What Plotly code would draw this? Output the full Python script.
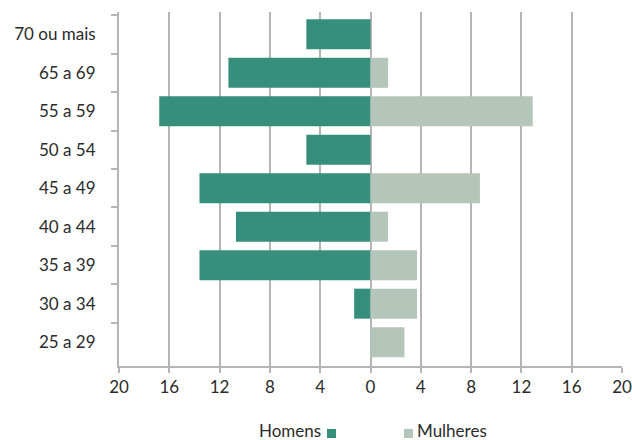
import plotly.graph_objects as go

categories = ["70 ou mais", "65 a 69", "55 a 59", "50 a 54", "45 a 49",
              "40 a 44", "35 a 39", "30 a 34", "25 a 29"]
homens = [5.1, 11.3, 16.8, 5.1, 13.6, 10.7, 13.6, 1.3, 0]
mulheres = [0, 1.4, 12.9, 0, 8.7, 1.4, 3.7, 3.7, 2.7]
tick_vals = [-20, -16, -12, -8, -4, 0, 4, 8, 12, 16, 20]
tick_text = [str(abs(v)) for v in tick_vals]

C_H = "#368F7C"
C_M = "#B3C6B9"
GRID = "#B5B5B5"
FONT = "Lato"
TXT = "#2b2b2b"
FS = 17

fig = go.Figure()
fig.add_trace(go.Bar(y=categories, x=[-v for v in homens], orientation="h",
                     marker=dict(color=C_H, line=dict(width=0)), name="Homens"))
fig.add_trace(go.Bar(y=categories, x=mulheres, orientation="h",
                     marker=dict(color=C_M, line=dict(width=0)), name="Mulheres"))

W, H = 632, 440
L, R, T, B = 119, 10, 12, 74
pw, ph = W - L - R, H - T - B

def px_x(x):
    return (x - L) / pw

def px_y(y):
    return (H - B - y) / ph

fig.update_layout(
    width=W, height=H,
    margin=dict(l=L, r=R, t=T, b=B, autoexpand=False),
    barmode="relative", bargap=0.22,
    plot_bgcolor="white", paper_bgcolor="white",
    showlegend=False,
    font=dict(family=FONT, size=FS, color=TXT),
    xaxis=dict(range=[-20, 20], tickvals=tick_vals, ticktext=tick_text,
               automargin=False,
               showgrid=True, gridcolor=GRID, gridwidth=2, zeroline=False,
               showline=True, linecolor=GRID, linewidth=2,
               ticks="outside", ticklen=5, tickcolor=GRID, tickwidth=2,
               tickfont=dict(family=FONT, size=FS, color=TXT)),
    yaxis=dict(categoryorder="array", categoryarray=categories,
               automargin=False,
               range=[8.62, -0.58], showgrid=False, zeroline=False,
               showline=True, linecolor=GRID, linewidth=2,
               ticks="outside", ticklen=6, tickcolor=GRID, tickwidth=2,
               tickson="boundaries", ticklabelstandoff=18,
               tickfont=dict(family=FONT, size=FS, color=TXT)),
)

fig.add_annotation(text="Homens", xref="paper", yref="paper",
                   x=px_x(323), y=px_y(430), xanchor="right", yanchor="middle",
                   showarrow=False, font=dict(family=FONT, size=FS, color=TXT))
fig.add_annotation(text="Mulheres", xref="paper", yref="paper",
                   x=px_x(415), y=px_y(430), xanchor="left", yanchor="middle",
                   showarrow=False, font=dict(family=FONT, size=FS, color=TXT))
fig.add_shape(type="rect", xref="paper", yref="paper",
              x0=px_x(327), x1=px_x(336), y0=px_y(438), y1=px_y(429),
              fillcolor=C_H, line=dict(width=0))
fig.add_shape(type="rect", xref="paper", yref="paper",
              x0=px_x(404), x1=px_x(413), y0=px_y(438), y1=px_y(429),
              fillcolor=C_M, line=dict(width=0))

fig.write_html("out.html", config={"displayModeBar": False},
               post_script="document.body.style.margin='0px';document.body.style.overflow='hidden';")
